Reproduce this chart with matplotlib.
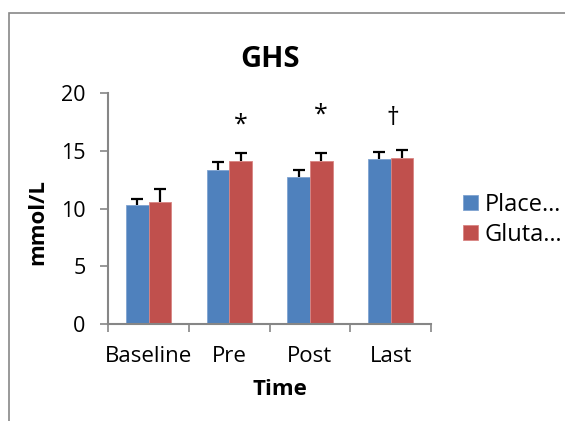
import matplotlib
matplotlib.use('Agg')
import numpy as np
import matplotlib.pyplot as plt
from matplotlib.patches import Rectangle

plt.rcParams['font.family'] = ['Open Sans', 'DejaVu Sans']

categories = ['Baseline', 'Pre', 'Post', 'Last']
series_names = ['Place…', 'Gluta…']
placebo = [10.3, 13.3, 12.7, 14.3]
placebo_err = [0.55, 0.7, 0.65, 0.6]
glutamine = [10.6, 14.1, 14.1, 14.4]
glutamine_err = [1.05, 0.72, 0.72, 0.64]
marks = ['', '*', '*', '†']
mark_y = [0, 17.25, 18.1, 17.8]
mark_dx = [0, 0.14, 0.14, 0.03]

blue = '#4F81BD'
red = '#C0504D'
axis_grey = '#868686'

fig = plt.figure(figsize=(5.65, 4.21), dpi=100)
ax = fig.add_axes([0.1917, 0.2311, 0.5711, 0.5473])

x = np.arange(len(categories))
w = 0.28
cap = 0.075
for vals, errs, xpos, col, edge, name in [
        (placebo, placebo_err, x - w / 2, blue, '#7fa3d0', series_names[0]),
        (glutamine, glutamine_err, x + w / 2, red, '#d98583', series_names[1])]:
    vals = np.array(vals)
    tops = vals + np.array(errs)
    ax.bar(xpos, vals, w, color=col, edgecolor=edge, linewidth=0.6, label=name, zorder=2)
    # upper error bars only, as in the original
    ax.vlines(xpos, vals, tops, color='black', linewidth=1.6, zorder=3)
    ax.hlines(tops, xpos - cap, xpos + cap, color='black', linewidth=1.6, zorder=3)

for i, m in enumerate(marks):
    if m:
        ax.text(i + mark_dx[i], mark_y[i], m, ha='center', va='center',
                fontsize=18 if m == '*' else 18)

ax.set_xlim(-0.5, 3.5)
ax.set_ylim(0, 20)
ax.set_yticks([0, 5, 10, 15, 20])
ax.tick_params(axis='y', labelsize=15.5, length=5.5, width=1.2, color=axis_grey, pad=11)

# boundaries as major ticks, labels on minor ticks
ax.set_xticks(np.arange(-0.5, 4, 1))
ax.set_xticklabels([])
ax.set_xticks(x, minor=True)
ax.set_xticklabels(categories, minor=True)
ax.tick_params(axis='x', which='major', length=5.5, width=1.2, color=axis_grey)
ax.tick_params(axis='x', which='minor', length=0, labelsize=16, pad=16)

for side in ['top', 'right']:
    ax.spines[side].set_visible(False)
for side in ['left', 'bottom']:
    ax.spines[side].set_color(axis_grey)
    ax.spines[side].set_linewidth(1.5)

ax.set_title('GHS', fontsize=21, fontweight='bold', pad=19)
ax.set_xlabel('Time', fontsize=16, fontweight='bold')
ax.xaxis.set_label_coords(0.532, -0.24)
ax.set_ylabel('mmol/L', fontsize=16, fontweight='bold')
ax.yaxis.label.set_va('center')
ax.yaxis.set_label_coords(-0.218, 0.44)

ax.legend(loc='center left', bbox_to_anchor=(1.07, 0.45), frameon=False, fontsize=17,
          handlelength=0.62, handleheight=0.62, handletextpad=0.3, labelspacing=0.25,
          borderaxespad=0)

fig.patches.append(Rectangle((9 / 565, -0.5), 2, 0.969 + 0.5, transform=fig.transFigure,
                             fill=False, edgecolor='#888888', linewidth=1.2, clip_on=False))

fig.savefig('out.png', dpi=100)
